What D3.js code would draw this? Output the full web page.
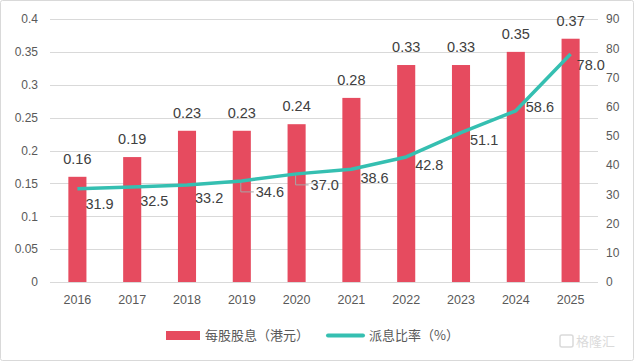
<!DOCTYPE html>
<html>
<head>
<meta charset="utf-8">
<script src="https://cdn.jsdelivr.net/npm/d3@7/dist/d3.min.js"></script>
<style>
  html, body { margin: 0; padding: 0; background: #fff; }
  svg { display: block; font-family: "Noto Sans CJK SC", "Noto Sans", sans-serif; }
</style>
</head>
<body>
<svg id="chart" width="635" height="362"></svg>
<script>
// data
var years = ['2016', '2017', '2018', '2019', '2020', '2021', '2022', '2023', '2024', '2025'];
var dividend = [0.16, 0.19, 0.23, 0.23, 0.24, 0.28, 0.33, 0.33, 0.35, 0.37];
var payout = [31.9, 32.5, 33.2, 34.6, 37.0, 38.6, 42.8, 51.1, 58.6, 78.0];
var leftTicks = [0, 0.05, 0.1, 0.15, 0.2, 0.25, 0.3, 0.35, 0.4];
var rightTicks = [0, 10, 20, 30, 40, 50, 60, 70, 80, 90];

// label nudges for the ratio line (pixels, dx / dy from the point)
var lineLabelShift = [[8, 20], [8, 19], [8, 18], [14, 16], [14, 16], [9, 14], [9, 13], [9, 12], [10, 1], [6, 16]];

var barColor = '#E64B5F',
    lineColor = '#35BFB1',
    tickColor = '#595959',
    labelColor = '#404040';

var W = 635, H = 362;
var margin = {top: 19, right: 37, bottom: 80, left: 50};

var svg = d3.select('#chart');

svg.append('rect')
  .attr('x', 0.5).attr('y', 0.5)
  .attr('width', W - 2).attr('height', H - 2)
  .attr('rx', 2)
  .attr('fill', '#fff')
  .attr('stroke', '#d9d9d9');

var x = d3.scaleBand()
  .domain(years)
  .range([margin.left, W - margin.right])
  .paddingInner(0.67)
  .paddingOuter(0.335);

var yL = d3.scaleLinear().domain([0, 0.4]).range([H - margin.bottom, margin.top]);
var yR = d3.scaleLinear().domain([0, 90]).range([H - margin.bottom, margin.top]);

// gridlines
svg.append('g')
  .selectAll('line')
  .data(leftTicks)
  .join('line')
  .attr('x1', margin.left).attr('x2', W - margin.right)
  .attr('y1', function(d) { return Math.round(yL(d)) + 0.5; })
  .attr('y2', function(d) { return Math.round(yL(d)) + 0.5; })
  .attr('stroke', '#d9d9d9')
  .attr('stroke-width', 1);

// left axis
var axisL = svg.append('g')
  .attr('transform', 'translate(' + margin.left + ',0)')
  .call(d3.axisLeft(yL).tickValues(leftTicks).tickSize(0).tickPadding(12).tickFormat(function(d) { return String(+d.toFixed(2)); }));
axisL.select('.domain').remove();

// right axis
var axisR = svg.append('g')
  .attr('transform', 'translate(' + (W - margin.right) + ',0)')
  .call(d3.axisRight(yR).tickValues(rightTicks).tickSize(0).tickPadding(8));
axisR.select('.domain').remove();

// bottom axis
var axisB = svg.append('g')
  .attr('transform', 'translate(0,' + (H - margin.bottom) + ')')
  .call(d3.axisBottom(x).tickSize(0).tickPadding(13));
axisB.select('.domain').remove();

svg.selectAll('.tick text')
  .attr('fill', tickColor)
  .style('font-size', '12px')
  .style('font-family', '"Liberation Sans", "Noto Sans", sans-serif');
axisB.selectAll('.tick text').style('font-size', '12.5px');

// bars
svg.append('g')
  .selectAll('rect')
  .data(dividend)
  .join('rect')
  .attr('x', function(d, i) { return x(years[i]); })
  .attr('y', function(d) { return yL(d); })
  .attr('width', x.bandwidth())
  .attr('height', function(d) { return yL(0) - yL(d); })
  .attr('fill', barColor);

// bar labels
svg.append('g')
  .selectAll('text')
  .data(dividend)
  .join('text')
  .attr('x', function(d, i) { return x(years[i]) + x.bandwidth() / 2; })
  .attr('y', function(d) { return yL(d) - 13; })
  .attr('text-anchor', 'middle')
  .attr('fill', labelColor)
  .style('font-size', '14.5px')
  .style('font-family', '"Liberation Sans", "Noto Sans", sans-serif')
  .text(function(d) { return d.toFixed(2); });

// leader lines for a couple of labels
var cx = function(i) { return x(years[i]) + x.bandwidth() / 2; };
[3, 4].forEach(function(i) {
  var px = cx(i), py = yR(payout[i]);
  svg.append('path')
    .attr('d', 'M' + (px - 1) + ',' + (py + 1) + 'V' + (py + lineLabelShift[i][1] - 5) + 'H' + (px + lineLabelShift[i][0] - 2))
    .attr('fill', 'none')
    .attr('stroke', '#a6a6a6')
    .attr('stroke-width', 1);
});

// payout ratio line
var line = d3.line()
  .x(function(d, i) { return cx(i); })
  .y(function(d) { return yR(d); });

svg.append('path')
  .datum(payout)
  .attr('d', line)
  .attr('fill', 'none')
  .attr('stroke', lineColor)
  .attr('stroke-width', 3.5)
  .attr('stroke-linejoin', 'round');

// line labels
svg.append('g')
  .selectAll('text')
  .data(payout)
  .join('text')
  .attr('x', function(d, i) { return cx(i) + lineLabelShift[i][0]; })
  .attr('y', function(d, i) { return yR(d) + lineLabelShift[i][1]; })
  .attr('fill', labelColor)
  .style('font-size', '14.5px')
  .style('font-family', '"Liberation Sans", "Noto Sans", sans-serif')
  .text(function(d) { return d.toFixed(1); });

// legend
var legend = svg.append('g').attr('transform', 'translate(0,335)');
legend.append('rect')
  .attr('x', 166).attr('y', -4)
  .attr('width', 34).attr('height', 9)
  .attr('fill', barColor);
legend.append('text')
  .attr('x', 205).attr('y', 5)
  .attr('fill', tickColor)
  .style('font-size', '13px')
  .text('每股股息（港元）');
legend.append('line')
  .attr('x1', 328).attr('x2', 363)
  .attr('y1', 0.5).attr('y2', 0.5)
  .attr('stroke', lineColor)
  .attr('stroke-width', 4)
  .attr('stroke-linecap', 'round');
legend.append('text')
  .attr('x', 369).attr('y', 5)
  .attr('fill', tickColor)
  .style('font-size', '13px')
  .text('派息比率（%）');

// watermark
var wm = svg.append('g').attr('transform', 'translate(560,345)').attr('opacity', 0.3);
wm.append('rect')
  .attr('x', 0).attr('y', -10)
  .attr('width', 13).attr('height', 12)
  .attr('rx', 2)
  .attr('fill', 'none')
  .attr('stroke', '#888')
  .attr('stroke-width', 1.5);
wm.append('text')
  .attr('x', 16).attr('y', 1)
  .attr('fill', '#888')
  .style('font-size', '13px')
  .text('格隆汇');
</script>
</body>
</html>
